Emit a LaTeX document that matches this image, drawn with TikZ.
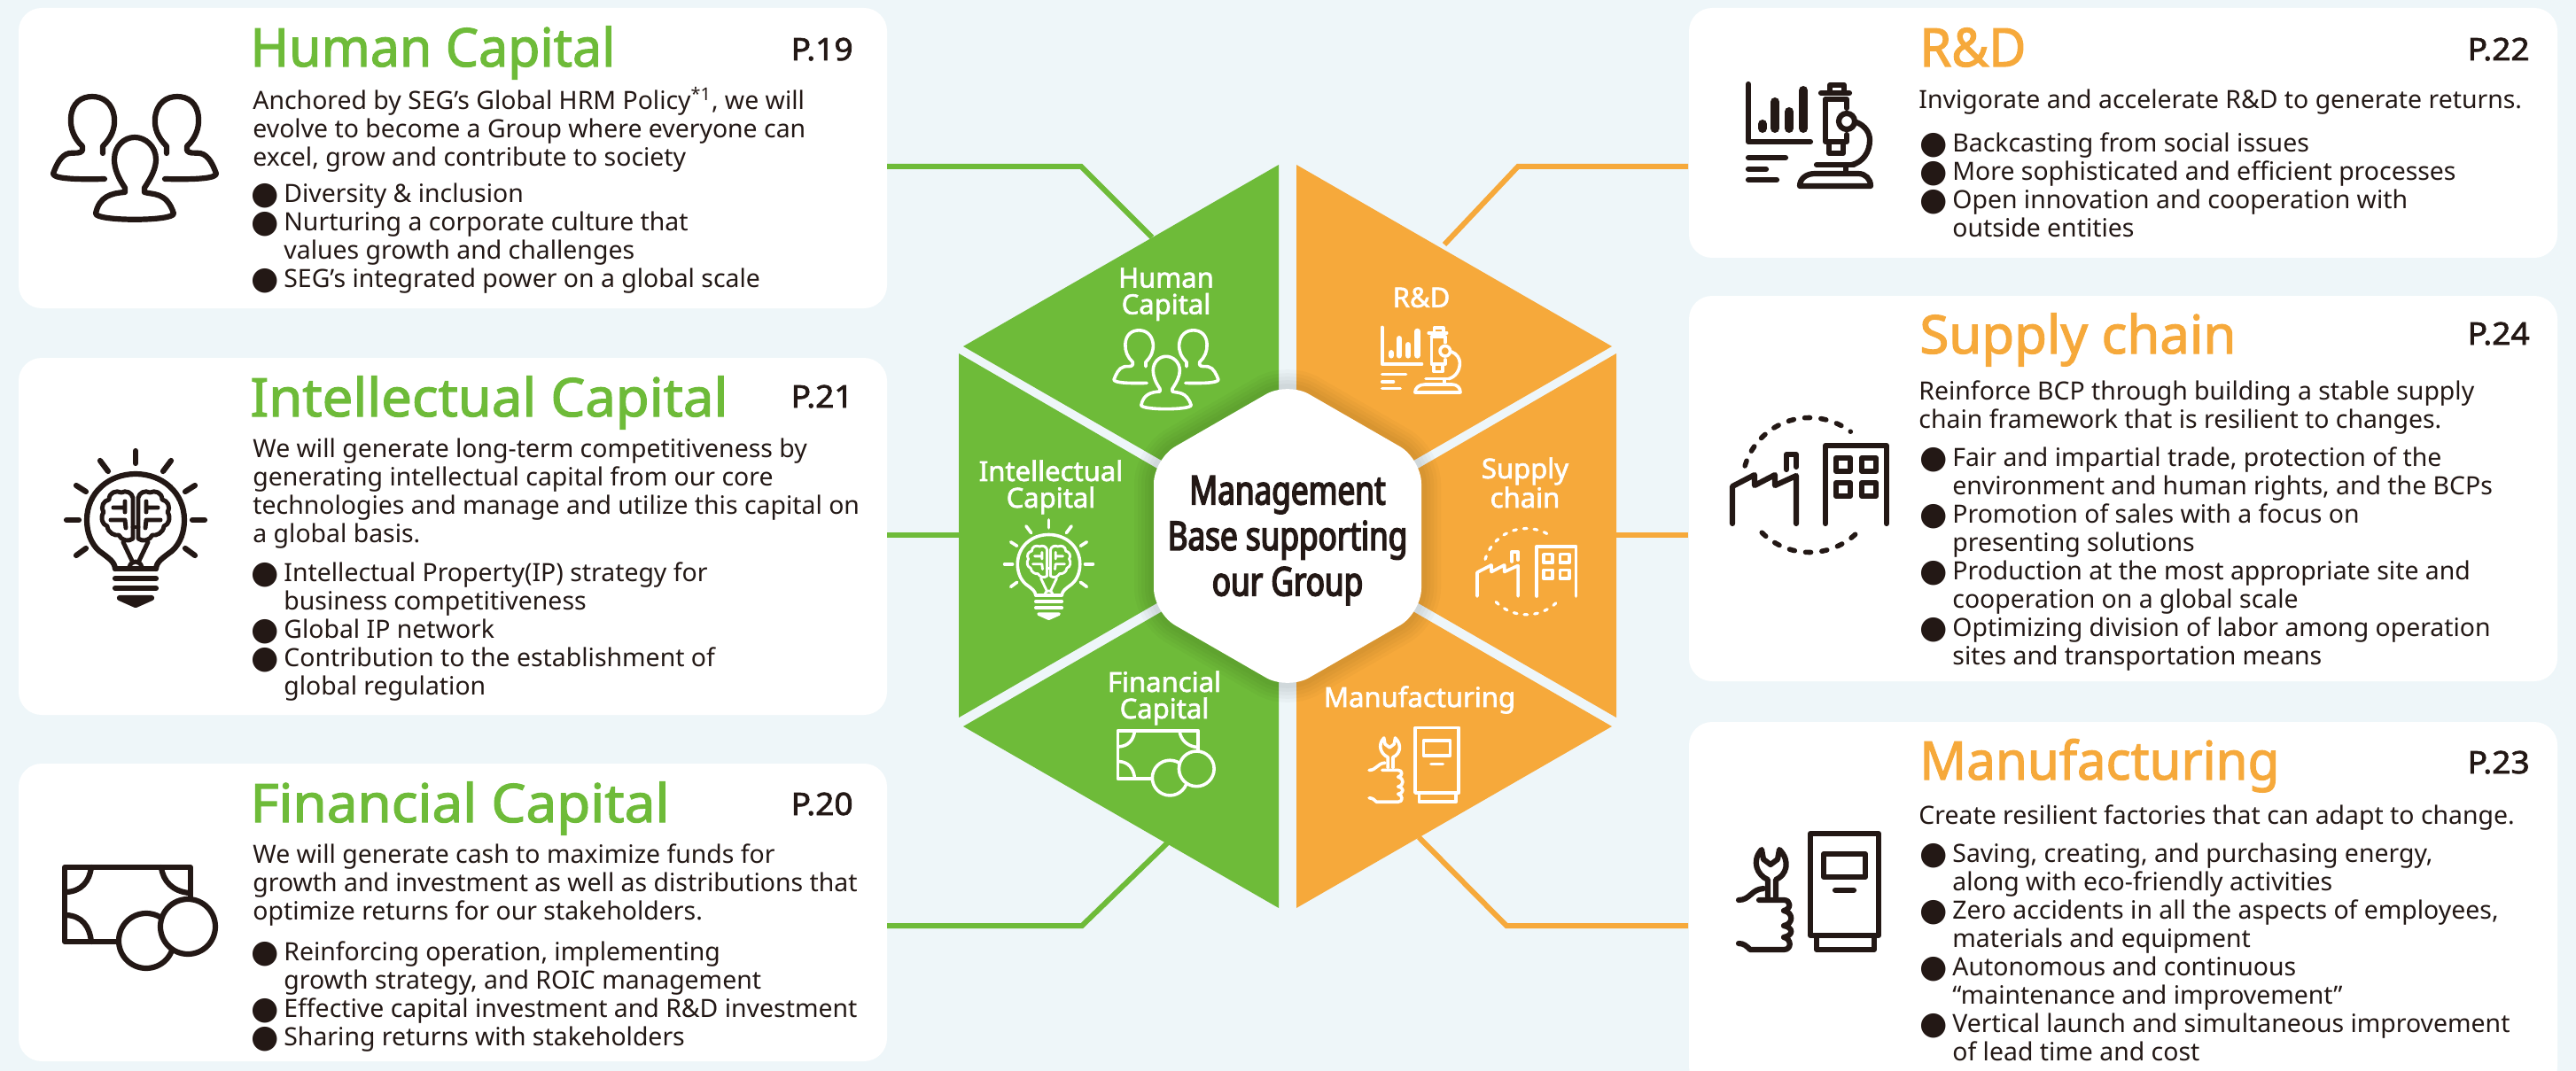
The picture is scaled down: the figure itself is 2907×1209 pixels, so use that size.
\documentclass[tikz,border=0pt]{standalone}
\usepackage{fontspec}
\usepackage{graphicx}
\setmainfont{Noto Sans}
\newfontfamily\medf[FakeBold=2]{Noto Sans}
\newfontfamily\condb[FakeStretch=0.78,FakeBold=3.5]{Noto Sans}
\newfontfamily\djf{DejaVu Sans}
\definecolor{bgc}{HTML}{EEF6F9}
\definecolor{grn}{HTML}{6EBB39}
\definecolor{org}{HTML}{F6A93B}
\definecolor{ink}{HTML}{231815}
\newcommand\bul{\makebox[17.5pt][l]{\raisebox{-1.1pt}{\fontsize{18pt}{18pt}\djf\hspace{-1pt}●}}}
\newcommand\ind{\hspace*{17.5pt}}
\newcommand\fst{\rule{0pt}{12pt}}
\newcommand\fitw[2]{\resizebox{#1}{\height}{#2}}
\tikzset{
  card/.style={fill=white,draw=none,rounded corners=13pt,inner sep=0,outer sep=0,minimum width=490pt},
  titleg/.style={anchor=base west,inner sep=0,text=grn,font=\fontsize{30pt}{32pt}\medf},
  titleo/.style={anchor=base west,inner sep=0,text=org,font=\fontsize{30pt}{32pt}\medf},
  pageno/.style={anchor=base east,inner sep=0,text=ink,font=\fontsize{17.5pt}{18pt}\medf},
  body/.style={anchor=north west,inner sep=0,align=left,text=ink,font=\fontsize{14.2pt}{16pt}\selectfont},
  seglabel/.style={anchor=north,inner sep=0,align=center,text=white,font=\fontsize{15.5pt}{15pt}\medf},
  centre/.style={anchor=north,inner sep=0,align=center,text=ink,font=\fontsize{22.5pt}{25.75pt}\condb},
  linkg/.style={draw=grn,line width=3pt},
  linko/.style={draw=org,line width=3pt},
  ic/.style={draw=\icc,line width=\icw,line cap=round,line join=round,fill=none},
  icb/.style={ic,line width=0.8*\icw},
  ics/.style={draw=\icc,line cap=round,line width=0.9*\icw,dash pattern=on \icda off \icdb}
}
\newcommand\setblack{\def\icc{ink}\def\icf{white}\def\icw{3.1pt}\def\icda{3pt}\def\icdb{6.2pt}\def\icbar{5pt}}
\newcommand\setwhite{\def\icc{white}\def\icw{1.8pt}\def\icda{1.9pt}\def\icdb{4pt}\def\icbar{3.2pt}}
% icons: drawn in the coordinates of the large version
\newcommand\iconPeople{
  \foreach \m/\o in {1/0,-1/304}{
    \begin{scope}[shift={(\o,0)},xscale=\m]
    \draw[ic] (116,173) -- (116,165) .. controls (126,155) and (130,145) .. (129,133) .. controls (127,116) and (116,109) .. (104,109)
      .. controls (92,109) and (81,116) .. (80,133) .. controls (79,145) and (84,157) .. (93,165) -- (93,170) .. controls (90,174) and (85,172) .. (78,173)
      .. controls (68,175) and (63,188) .. (60,196) .. controls (60,201) and (80,203) .. (118,202);
    \end{scope}}
  \draw[ic] (141,212) .. controls (133,200) and (129,190) .. (129,180) .. controls (129,165) and (140,155) .. (152,155)
     .. controls (164,155) and (176,165) .. (176,180) .. controls (176,190) and (171,200) .. (163,212) -- (163,217)
     .. controls (172,220) and (188,216) .. (196,241) .. controls (196,250) and (108,250) .. (108,241) .. controls (112,222) and (125,218) .. (141,217) -- cycle;
}
\newcommand\iconBulb{
  \draw[ic] (130,642) -- (176,642);
  \draw[ic] (130,642) .. controls (129,634) and (124,631) .. (112,622) .. controls (102,613) and (98,600) .. (98,587)
     .. controls (98,556) and (123,535) .. (153,535) .. controls (183,535) and (208,556) .. (208,587)
     .. controls (208,600) and (204,613) .. (194,622) .. controls (182,631) and (177,634) .. (176,642);
  \draw[ic] (130,653) -- (176,653) (130,664) -- (176,664);
  \draw[ic,fill=\icc] (135,675) -- (171,675) -- (153,683) -- cycle;
  \foreach \a/\b/\c/\d in {153/509/153/523,113/520/122/532,193/520/184/532,86/548/97/555,220/548/209/555,75/587/89/587,231/587/217/587,86/627/97/619,220/627/209/619}{
    \draw[ic] (\a,\b) -- (\c,\d);}
  \foreach \m/\o in {1/0,-1/306}{
    \begin{scope}[shift={(\o,0)},xscale=\m]
    \draw[icb] (150,597) -- (150,562) .. controls (149,556) and (142,553) .. (137,556) .. controls (131,553) and (123,556) .. (123,564)
       .. controls (117,565) and (113,572) .. (117,578) .. controls (113,584) and (115,592) .. (121,594)
       .. controls (122,602) and (130,605) .. (134,604) .. controls (137,610) and (145,612) .. (150,608) -- cycle;
    \draw[icb] (128,573) -- (141,573) (141,566) -- (141,578) (125,587) -- (141,587) -- (142,596);
    \draw[icb] (139,612) -- (149,633);
    \end{scope}}
  \draw[icb] (150,595) -- (156,595);
  \draw[icb] (146,640) .. controls (148,632) and (158,632) .. (160,640);
}
\newcommand\iconMoney{
  \draw[ic] (215,1015) -- (215,979) -- (73,979) -- (73,1063) -- (133,1063);
  \draw[ic] (75,1007) .. controls (92,1006) and (101,995) .. (103,979);
  \draw[ic] (182,979) .. controls (184,995) and (195,1006) .. (213,1008);
  \draw[ic] (75,1033) .. controls (92,1034) and (101,1045) .. (103,1063);
  \draw[ic,fill=\icf] (165,1062) circle[radius=31];
  \draw[ic,fill=\icf] (212,1046) circle[radius=31];
}
\newcommand\iconLab{
  \draw[ic] (1973,95) -- (1973,160) -- (2043,160);
  \draw[ic,line width=\icbar] (1989,140) -- (1989,145) (2003,115) -- (2003,145) (2019,126) -- (2019,145) (2035,102) -- (2035,145);
  \draw[ic] (1973,178) -- (2015,178) (1973,191) -- (1993,191) (1973,203) -- (2005,203);
  \draw[ic] (2065,105) -- (2065,96) -- (2081,96) -- (2081,105);
  \draw[ic] (2055,105) -- (2087,105);
  \draw[ic] (2060,112) -- (2060,160) -- (2084,160) -- (2084,152) (2084,122) -- (2084,112) -- (2060,112);
  \draw[ic] (2064,161) -- (2064,173) -- (2080,173) -- (2080,161);
  \draw[ic] (2084,137) circle[radius=9];
  \draw[ic] (2095,138) .. controls (2105,142) and (2110,150) .. (2110,158) .. controls (2110,172) and (2102,183) .. (2090,186);
  \draw[ic] (2050,186) -- (2092,186) (2083,186) -- (2083,195);
  \draw[ic] (2031,210) .. controls (2031,202) and (2038,196) .. (2048,196) -- (2097,196) .. controls (2105,196) and (2111,202) .. (2111,210) -- cycle;
}
\newcommand\iconFactory{
  \draw[ics] (2042,547.5) ++(196.5:76) arc[start angle=196.5,end angle=307.5,radius=76];
  \draw[ics] (2042,547.5) ++(135:76) arc[start angle=135,end angle=44,radius=76];
  \draw[ic] (1955,591) -- (1955,549) -- (1980,536) -- (1980,548) -- (2003,536) -- (2003,548) -- (2027,537) -- (2027,591);
  \draw[ic] (2016,530) -- (2016,513) -- (2027,513) -- (2027,527);
  \draw[ic] (2060,591) -- (2060,503) -- (2129,503) -- (2129,591);
  \foreach \a in {2072,2101}{\foreach \b in {517,545}{
    \draw[ic] (\a,\b) rectangle ++(16,15);}}
}
\newcommand\iconTool{
  \draw[ic] (2043,1056) -- (2043,941) -- (2120,941) -- (2120,1056) -- cycle;
  \draw[ic] (2050,1057) -- (2050,1072) -- (2115,1072) -- (2115,1057);
  \draw[ic] (2058,964) rectangle (2105,990);
  \draw[ic] (2071,1005) -- (2092,1005);
  \draw[ic] (1995,1012) -- (1995,993) .. controls (1983,988) and (1976,972) .. (1988,959) -- (1990,970) -- (1998,976) -- (2006,970) -- (2008,959)
     .. controls (2021,972) and (2016,988) .. (2004,993) -- (2004,1012);
  \draw[ic] (1962,1016) .. controls (1975,1016) and (1976,1004) .. (1990,1003);
  \draw[ic] (1985,1016) -- (2013,1016) .. controls (2021,1016) and (2022,1026) .. (2013,1028) .. controls (2024,1030) and (2024,1043) .. (2013,1045)
     .. controls (2024,1047) and (2024,1056) .. (2013,1058) .. controls (2022,1060) and (2022,1072) .. (2013,1072) -- (1975,1072) .. controls (1971,1068) and (1968,1065) .. (1962,1065);
}
\begin{document}
\begin{tikzpicture}[x=0.5pt,y=-0.5pt]
\fill[bgc] (0,0) rectangle (2907,1209);
\useasboundingbox (0,0) rectangle (2907,1209);
% cards
\node[card,minimum height=169.5pt] (cardhc) at (511,178.5) {};
\node[card,minimum height=201.5pt] (cardic) at (511,605.5) {};
\node[card,minimum height=168pt] (cardfc) at (511,1030) {};
\node[card,minimum height=141pt] (cardrd) at (2396,150) {};
\node[card,minimum height=217.5pt] (cardsc) at (2396,551.5) {};
\node[card,minimum height=207.5pt] (cardmf) at (2396,1022.5) {};
% connector points
\coordinate (lh0) at (1001,188); \coordinate (lh1) at (1220,188); \coordinate (lh2) at (1300,268);
\coordinate (li0) at (1001,604); \coordinate (li1) at (1090,604);
\coordinate (lf0) at (1001,1045); \coordinate (lf1) at (1221,1045); \coordinate (lf2) at (1318,951);
\coordinate (lr0) at (1905,188); \coordinate (lr1) at (1713,188); \coordinate (lr2) at (1630,276);
\coordinate (ls0) at (1905,604); \coordinate (ls1) at (1815,604);
\coordinate (lm0) at (1905,1045); \coordinate (lm1) at (1700,1045); \coordinate (lm2) at (1601,945);
\draw[linkg] (lh0) -- (lh1) -- (lh2);
\draw[linkg] (li0) -- (li1);
\draw[linkg] (lf0) -- (lf1) -- (lf2);
\draw[linko] (lr0) -- (lr1) -- (lr2);
\draw[linko] (ls0) -- (ls1);
\draw[linko] (lm0) -- (lm1) -- (lm2);
% hexagon segments
\fill[grn] (1443,186) -- (1087,391) -- (1443,596) -- cycle;
\fill[grn] (1082,399) -- (1082,810) -- (1437,605) -- cycle;
\fill[grn] (1087,820) -- (1443,1025) -- (1443,614) -- cycle;
\fill[org] (1463,186) -- (1819,391) -- (1463,596) -- cycle;
\fill[org] (1824,399) -- (1824,810) -- (1469,605) -- cycle;
\fill[org] (1819,820) -- (1463,1025) -- (1463,614) -- cycle;
% centre hexagon with soft shadow
\foreach \w in {22,18,14,10,6}{
  \draw[black,opacity=0.022,line width=\w pt,rounded corners=14pt,line join=round]
    (1453,431) -- (1604,518) -- (1604,692) -- (1453,779) -- (1302,692) -- (1302,518) -- cycle;}
\fill[white,rounded corners=14pt] (1453,431) -- (1604,518) -- (1604,692) -- (1453,779) -- (1302,692) -- (1302,518) -- cycle;
\node[centre] (mgmt) at (1453,529) {\rule{0pt}{20pt}Management\\Base supporting\\our Group};
% segment labels
\node[seglabel] (shc) at (1316,302) {\rule{0pt}{11pt}Human\\Capital};
\node[seglabel] (sic) at (1186,519) {\rule{0pt}{11pt}Intellectual\\Capital};
\node[seglabel] (sfc) at (1314,757) {\rule{0pt}{11pt}Financial\\Capital};
\node[seglabel] (srd) at (1604,324) {\rule{0pt}{11pt}R\&D};
\node[seglabel] (ssc) at (1721,516) {\rule{0pt}{11pt}Supply\\chain};
\node[seglabel] (smf) at (1602,774) {\rule{0pt}{11pt}Manufacturing};
% large icons
\setblack
\iconPeople \iconBulb \iconMoney \iconLab \iconFactory \iconTool
% small icons: t = small centre - 0.64 * large centre
\setwhite
\begin{scope}[shift={(1218.7,303.1)},scale=0.64]\iconPeople\end{scope}
\begin{scope}[shift={(1085.6,261.1)},scale=0.64]\iconBulb\end{scope}
\def\icf{grn}
\begin{scope}[shift={(1214.6,198.4)},scale=0.64]\iconMoney\end{scope}
\begin{scope}[shift={(297.0,308.6)},scale=0.64]\iconLab\end{scope}
\begin{scope}[shift={(415.8,294.8)},scale=0.64]\iconFactory\end{scope}
\begin{scope}[shift={(289.4,219.2)},scale=0.64]\iconTool\end{scope}
% Human Capital
\node[titleg] (thc) at (282,75) {\fitw{206pt}{Human Capital}};
\node[pageno] (phc) at (963,68) {\fitw{35pt}{P.19}};
\node[body] (ihc) at (285,98) {\fst Anchored by SEG’s Global HRM Policy\textsuperscript{*1}, we will\\evolve to become a Group where everyone can\\excel, grow and contribute to society};
\node[body] (bhc) at (285,204) {\fst\bul Diversity \& inclusion\\\bul Nurturing a corporate culture that\\\ind values growth and challenges\\\bul SEG’s integrated power on a global scale};
% Intellectual Capital
\node[titleg] (tic) at (282,470) {\fitw{269.5pt}{Intellectual Capital}};
\node[pageno] (pic) at (963,460) {\fitw{35pt}{P.21}};
\node[body] (iic) at (285,492) {\fst We will generate long-term competitiveness by\\generating intellectual capital from our core\\technologies and manage and utilize this capital on\\a global basis.};
\node[body] (bic) at (285,632) {\fst\bul Intellectual Property(IP) strategy for\\\ind business competitiveness\\\bul Global IP network\\\bul Contribution to the establishment of\\\ind global regulation};
% Financial Capital
\node[titleg] (tfc) at (282,928) {\fitw{236.5pt}{Financial Capital}};
\node[pageno] (pfc) at (963,920) {\fitw{35pt}{P.20}};
\node[body] (ifc) at (285,950) {\fst We will generate cash to maximize funds for\\growth and investment as well as distributions that\\optimize returns for our stakeholders.};
\node[body] (bfc) at (285,1060) {\fst\bul Reinforcing operation, implementing\\\ind growth strategy, and ROIC management\\\bul Effective capital investment and R\&D investment\\\bul Sharing returns with stakeholders};
% R&D
\node[titleo] (trd) at (2166,75) {\fitw{60pt}{R\&D}};
\node[pageno] (prd) at (2855,68) {\fitw{35pt}{P.22}};
\node[body] (ird) at (2165,98) {\fst Invigorate and accelerate R\&D to generate returns.};
\node[body] (brd) at (2168,147) {\fst\bul Backcasting from social issues\\\bul More sophisticated and efficient processes\\\bul Open innovation and cooperation with\\\ind outside entities};
% Supply chain
\node[titleo] (tsc) at (2166,399) {\fitw{178.5pt}{Supply chain}};
\node[pageno] (psc) at (2855,389) {\fitw{35pt}{P.24}};
\node[body] (isc) at (2165,427) {\fst Reinforce BCP through building a stable supply\\chain framework that is resilient to changes.};
\node[body] (bsc) at (2168,502) {\fst\bul Fair and impartial trade, protection of the\\\ind environment and human rights, and the BCPs\\\bul Promotion of sales with a focus on\\\ind presenting solutions\\\bul Production at the most appropriate site and\\\ind cooperation on a global scale\\\bul Optimizing division of labor among operation\\\ind sites and transportation means};
% Manufacturing
\node[titleo] (tmf) at (2166,880) {\fitw{203pt}{Manufacturing}};
\node[pageno] (pmf) at (2855,873) {\fitw{35pt}{P.23}};
\node[body] (imf) at (2165,906) {\fst Create resilient factories that can adapt to change.};
\node[body] (bmf) at (2168,949) {\fst\bul Saving, creating, and purchasing energy,\\\ind along with eco-friendly activities\\\bul Zero accidents in all the aspects of employees,\\\ind materials and equipment\\\bul Autonomous and continuous\\\ind “maintenance and improvement”\\\bul Vertical launch and simultaneous improvement\\\ind of lead time and cost};
\end{tikzpicture}
\end{document}
